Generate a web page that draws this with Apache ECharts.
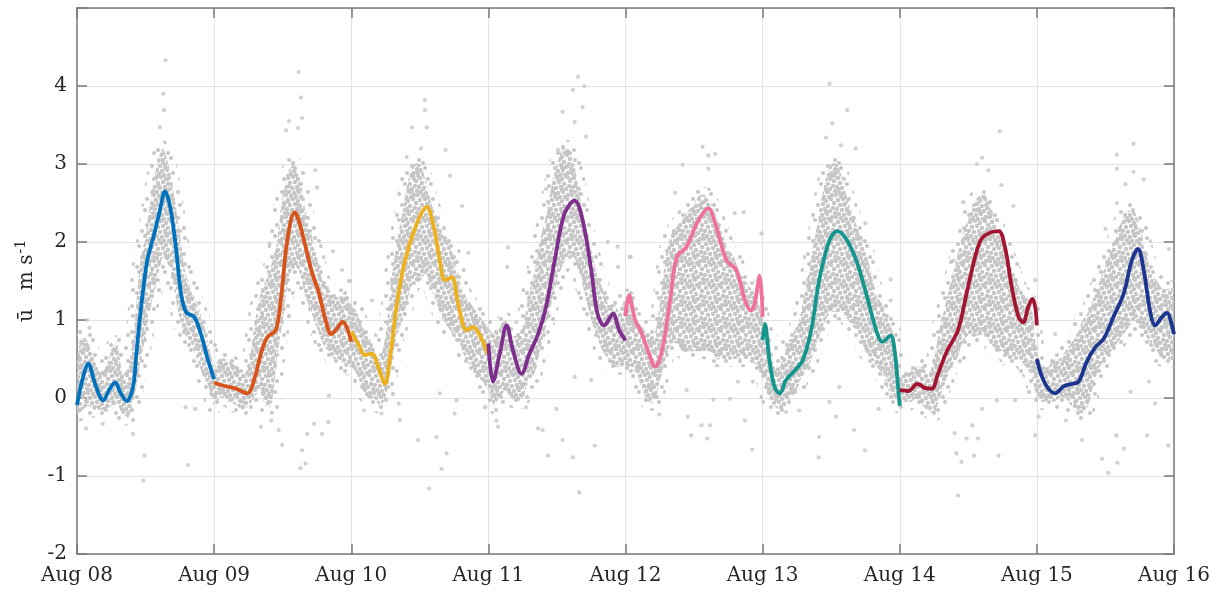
<!DOCTYPE html>
<html>
<head>
<meta charset="utf-8">
<script src="https://cdn.jsdelivr.net/npm/echarts@6/dist/echarts.min.js"></script>
<style>
  html, body { margin: 0; padding: 0; background: #ffffff; }
  #chart { width: 1223px; height: 596px; }
</style>
</head>
<body>
<div id="chart"></div>
<script>
// Day labels along the time axis (one tick every 24 h, starting Aug 08 00:00)
const dayLabels = ['Aug 08', 'Aug 09', 'Aug 10', 'Aug 11', 'Aug 12', 'Aug 13', 'Aug 14', 'Aug 15', 'Aug 16'];

// Hourly envelope of the dense cloud of individual samples (index = hour since Aug 08 00:00)
const cloudLow = [
  -0.2,-0.15,-0.1,-0.15,-0.15,-0.15,-0.1,-0.1,-0.2,-0.25,0.0,0.4,0.8,1.2,1.5,1.8,1.7,1.4,1.0,0.8,0.7,0.5,0.3,0.15,
  -0.1,0.0,0.0,-0.05,-0.1,-0.15,-0.1,0.0,0.1,-0.1,-0.1,0.5,1.0,1.5,1.7,1.6,1.3,1.1,0.9,0.7,0.6,0.5,0.5,0.4,
  0.4,0.3,0.1,0.0,0.0,-0.1,0.0,0.4,0.8,1.0,1.3,1.5,1.5,1.6,1.4,1.2,1.0,0.9,0.8,0.7,0.5,0.4,0.3,0.2,
  0.1,-0.1,0.0,0.1,0.0,-0.05,0.0,0.2,0.3,0.6,0.9,1.2,1.5,1.7,1.8,1.8,1.6,1.3,1.0,0.8,0.6,0.5,0.4,0.4,
  0.4,0.4,0.3,0.1,-0.05,-0.05,0.2,0.5,0.7,0.7,0.6,0.6,0.6,0.6,0.6,0.6,0.5,0.5,0.5,0.5,0.5,0.5,0.5,0.4,
  0.3,0.0,-0.1,-0.15,-0.1,0.0,0.1,0.3,0.4,0.6,0.8,1.0,1.1,1.1,1.1,1.0,0.9,0.8,0.6,0.5,0.4,0.3,0.1,0.0,
  -0.1,-0.05,-0.05,0.0,-0.1,-0.15,-0.2,0.0,0.2,0.4,0.5,0.7,0.8,0.8,0.8,0.8,0.7,0.6,0.6,0.5,0.5,0.5,0.4,0.3,
  0.0,-0.05,-0.05,-0.05,0.0,0.0,-0.1,-0.15,-0.2,-0.1,0.2,0.4,0.5,0.6,0.7,0.8,0.9,1.0,0.9,0.8,0.7,0.6,0.5,0.5,0.5
];
const cloudHigh = [
  0.5,0.8,0.7,0.5,0.35,0.4,0.6,0.7,0.3,0.4,0.9,1.7,2.1,2.6,3.0,3.2,3.0,2.6,2.1,1.6,1.4,1.2,1.0,0.7,
  0.4,0.5,0.5,0.45,0.4,0.3,0.4,0.9,1.3,1.5,1.7,2.0,2.6,2.9,3.0,2.8,2.4,2.1,1.8,1.5,1.4,1.3,1.3,1.3,
  1.2,1.1,0.9,0.8,0.6,0.5,0.8,1.5,2.0,2.4,2.8,3.0,3.0,2.8,2.5,2.3,2.1,2.0,1.8,1.5,1.3,1.2,1.1,1.0,
  0.9,0.8,0.9,1.0,0.8,0.8,0.9,1.3,1.6,2.0,2.3,2.7,3.0,3.2,3.2,3.0,2.6,2.2,1.9,1.6,1.4,1.2,1.2,1.1,
  1.3,1.2,1.0,0.9,0.8,0.8,1.2,1.8,2.1,2.2,2.3,2.4,2.5,2.6,2.6,2.5,2.3,2.1,1.9,1.8,1.6,1.5,1.4,1.3,
  1.0,0.8,0.4,0.4,0.6,0.8,0.9,1.2,1.6,2.0,2.4,2.8,3.0,3.0,2.8,2.5,2.3,2.1,1.9,1.6,1.3,1.2,1.0,0.8,
  0.3,0.3,0.35,0.4,0.4,0.3,0.5,0.9,1.2,1.5,1.8,2.1,2.3,2.5,2.6,2.6,2.4,2.2,2.0,1.8,1.6,1.4,1.3,1.2,
  0.6,0.4,0.4,0.5,0.5,0.6,0.7,0.8,1.0,1.1,1.3,1.5,1.7,1.9,2.1,2.3,2.4,2.4,2.2,1.9,1.6,1.5,1.4,1.4,1.4
];

// Isolated samples outside the dense cloud: [hour, u]
const scatterSamples = [
  [15.5,4.33],[15.1,3.9],[15.2,3.69],[14.5,3.47],[11.8,-0.74],[11.6,-1.06],[19.4,-0.86],[19.0,-0.12],[20.7,-0.14],
  [9.8,-0.46],[1.6,-0.39],[4.5,-0.33],[1.8,1.0],[2.2,0.9],
  [38.8,4.18],[39.2,3.85],[37.1,3.55],[36.6,3.43],[39.4,3.59],[38.7,3.46],[41.7,2.92],[42.0,2.7],[33.7,1.98],
  [44.8,1.88],[46.4,1.64],[47.6,1.5],[39.4,-0.67],[39.1,-0.9],[40.0,-0.84],[35.9,-0.6],[32.2,-0.37],[35.3,-0.41],
  [41.5,-0.33],[42.9,-0.46],[44.0,-0.31],[40.3,-0.46],[34.0,-0.29],[44.1,0.03],
  [60.9,3.82],[60.9,3.69],[61.2,3.47],[58.6,3.47],[60.2,3.2],[64.5,3.18],[57.7,3.09],[65.3,2.85],[67.4,2.46],
  [68.5,1.86],[59.7,-0.54],[62.9,-0.5],[63.8,-0.91],[64.7,-0.71],[61.6,-1.16],[56.5,-0.28],[63.5,0.06],[66.1,-0.2],
  [50.2,-0.16],[53.3,-0.2],[56.3,-0.07],[66.4,-0.03],[51.6,1.25],[47.8,1.5],
  [87.7,4.12],[88.8,4.0],[88.5,3.73],[86.8,3.95],[85.0,3.67],[87.1,3.54],[89.1,3.35],[82.1,2.68],[84.2,3.18],
  [75.4,1.93],[75.3,1.68],[92.9,2.0],[94.6,1.94],[96.7,1.81],[94.7,1.68],[87.9,-1.21],[86.8,-0.76],[82.4,-0.74],
  [85.0,-0.54],[90.6,-0.61],[81.5,-0.41],[80.7,-0.39],[73.4,-0.29],[73.7,-0.37],[71.4,-0.12],[83.9,-0.14],
  [78.6,-0.12],[87.1,0.27],[90.0,0.23],
  [109.5,3.22],[110.5,3.11],[111.7,3.13],[106.0,2.99],[110.5,2.94],[104.7,2.63],[115.1,2.37],[116.7,2.38],
  [119.8,2.11],[96.9,1.81],[109.3,-0.35],[110.8,-0.35],[107.5,-0.48],[110.3,-0.52],[106.9,-0.24],[116.9,-0.29],
  [118.2,-0.66],[101.9,-0.21],[111.4,-0.02],[114.3,-0.01],[115.7,0.21],[106.7,0.1],[118.3,0.21],
  [131.7,4.03],[134.8,3.69],[132.2,3.52],[131.1,3.34],[136.3,3.2],[133.7,3.24],[138.0,2.24],[142.4,1.52],
  [142.4,1.25],[129.9,-0.5],[129.8,-0.76],[137.9,-0.67],[136.0,-0.41],[132.8,-0.24],[131.7,-0.05],[133.4,0.14],
  [140.3,-0.14],[124.1,-0.18],[126.4,-0.16],
  [161.5,3.42],[158.4,3.08],[157.5,3.0],[159.5,2.92],[161.8,2.73],[155.1,2.51],[163.9,2.46],[153.4,1.76],
  [167.7,1.51],[154.2,-1.25],[154.8,-0.82],[153.9,-0.71],[157.0,-0.74],[155.7,-0.52],[156.7,-0.35],[153.6,-0.45],
  [161.3,-0.74],[157.7,-0.52],[158.4,-0.14],[167.7,-0.48],[161.0,-0.03],[164.2,-0.03],
  [184.9,3.26],[182.0,3.12],[184.9,2.9],[182.0,2.94],[186.7,2.8],[183.5,2.74],[182.0,2.5],[180.0,2.17],
  [191.1,1.91],[171.2,0.82],[180.5,-0.96],[182.1,-0.83],[179.4,-0.78],[183.2,-0.65],[181.9,-0.48],[187.3,-0.48],
  [191.0,-0.61],[173.1,-0.29],[175.9,-0.54],[168.3,-0.24],[184.4,0.08],[187.6,0.21],[188.7,-0.07]
];

// Smoothed daily mean curves: [hour, u]
const aug08 = [[0,-0.09],[1,0.25],[2,0.44],[3,0.22],[4,0.02],[4.6,-0.03],[5.6,0.1],[6.7,0.2],[7.6,0.07],[8.7,-0.04],
  [9.8,0.14],[10.35,0.53],[10.9,0.95],[11.6,1.4],[12.3,1.76],[13.5,2.1],[14.5,2.4],[15.4,2.65],[16.3,2.45],
  [17.3,1.94],[18.2,1.34],[19.1,1.1],[20.5,1.04],[21.7,0.82],[22.8,0.52],[24,0.24]];
const aug09 = [[24,0.2],[25.5,0.16],[27.8,0.12],[29.8,0.06],[31,0.23],[32.2,0.57],[33.3,0.78],[34.8,0.87],
  [35.8,1.34],[36.8,2.02],[38.1,2.38],[38.8,2.28],[40,1.94],[41.2,1.59],[42.3,1.36],[43.5,1.0],[44.5,0.82],
  [45.5,0.89],[46.5,0.98],[47.3,0.89],[48,0.72]];
const aug10 = [[48,0.85],[49.3,0.68],[50.4,0.55],[51.6,0.57],[52.8,0.38],[53.9,0.18],[54.8,0.53],[56,1.21],
  [57.4,1.76],[59.5,2.24],[61.2,2.45],[62.4,2.21],[63.5,1.76],[64.4,1.51],[65.6,1.55],[66.7,1.21],[68.2,0.87],
  [69.3,0.91],[70.8,0.76],[71.8,0.57]];
const aug11 = [[72,0.7],[72.8,0.21],[74,0.57],[75.2,0.93],[76.3,0.61],[77.8,0.31],[79.2,0.57],[80.7,0.82],
  [82.1,1.17],[83.6,1.76],[85.3,2.36],[87.1,2.53],[88.5,2.28],[90,1.64],[91.1,1.08],[92.3,0.93],[93.8,1.08],
  [94.9,0.87],[96,0.74]];
const aug12 = [[96,1.05],[96.6,1.32],[97.7,1.0],[98.9,0.82],[100.1,0.57],[101.2,0.4],[102.4,0.61],[103.8,1.25],
  [105,1.81],[106.7,1.94],[108.5,2.24],[110.5,2.43],[111.9,2.19],[113.7,1.76],[115.4,1.64],[116.9,1.25],
  [118,1.12],[118.6,1.21],[119.5,1.57],[120,1.04]];
const aug13 = [[120,0.74],[120.4,0.95],[121.2,0.48],[122.1,0.14],[123,0.06],[124.1,0.23],[125.6,0.35],[127,0.48],
  [128.5,0.87],[129.9,1.51],[131.7,2.02],[133.1,2.14],[134.8,2.02],[136.6,1.72],[138.3,1.29],[140.1,0.82],
  [141,0.72],[142.4,0.8],[143.1,0.61],[143.6,0.23],[144,-0.1]];
const aug14 = [[144,0.1],[145.5,0.09],[147.1,0.18],[148.4,0.13],[149.6,0.12],[150.7,0.31],[152.2,0.59],[154.2,0.87],
  [155.7,1.34],[157.2,1.81],[158.3,2.04],[159.8,2.12],[161.3,2.14],[162.4,1.94],[163.6,1.42],[164.8,1.04],
  [165.6,0.97],[166.5,1.17],[167.2,1.27],[167.7,1.17],[168,0.93]];
const aug15 = [[168,0.5],[168.9,0.27],[170,0.12],[171.2,0.06],[172.7,0.15],[174.1,0.18],[175.3,0.21],[176.7,0.46],
  [178.2,0.65],[179.7,0.76],[181.4,1.04],[183.2,1.34],[184.6,1.76],[185.7,1.91],[186.7,1.64],[187.9,1.08],
  [188.7,0.93],[189.9,1.04],[190.8,1.09],[191.5,0.97],[192,0.82]];

const dailyCurves = [aug08, aug09, aug10, aug11, aug12, aug13, aug14, aug15];
const curveColors = ['#0072BD', '#D95319', '#EDB120', '#7E2F8E', '#F0719B', '#14968F', '#A2142F', '#1C3591'];

const FONT = 'DejaVu Serif';
const AXIS_COLOR = '#7a7a7a';
const GRID_COLOR = '#e3e3e3';
const DOT_COLOR = '#c6c6c6';

// Small repeating tiles of dots used to texture the sample cloud
function dotTile(size, dots, r, color) {
  const c = document.createElement('canvas');
  c.width = size; c.height = size;
  const g = c.getContext('2d');
  g.fillStyle = color;
  dots.forEach(([x, y]) => {
    for (let dx = -size; dx <= size; dx += size) {
      for (let dy = -size; dy <= size; dy += size) {
        g.beginPath();
        g.arc(x + dx, y + dy, r, 0, Math.PI * 2);
        g.fill();
      }
    }
  });
  return c;
}
const denseTile = dotTile(22, [
  [2,2],[7,1],[12,3],[17,1],[20,5],[4,7],[9,6],[14,8],[19,10],[1,11],[6,12],[11,11],
  [16,13],[21,15],[3,16],[8,17],[13,16],[18,19],[5,20],[10,21],[15,21],[0,19],[12,14]
], 2.2, DOT_COLOR);
const sparseTile = dotTile(26, [
  [3,4],[15,2],[22,10],[9,12],[2,20],[17,17],[12,23],[24,23],[7,7]
], 2.0, DOT_COLOR);

const chart = echarts.init(document.getElementById('chart'), null, { renderer: 'canvas' });

const curveSeries = dailyCurves.map((d, i) => ({
  type: 'line',
  data: d,
  xAxisIndex: 0,
  yAxisIndex: 0,
  smooth: 0.35,
  showSymbol: false,
  symbol: 'none',
  lineStyle: { color: curveColors[i], width: 3.8 },
  z: 5,
  silent: true
}));

const option = {
  animation: false,
  backgroundColor: '#ffffff',
  grid: { left: 77, right: 49, top: 8, bottom: 42, containLabel: false },
  xAxis: [
    {
      type: 'value', min: 0, max: 192, interval: 24, position: 'bottom',
      axisLine: { show: true, onZero: false, lineStyle: { color: AXIS_COLOR, width: 1.5 } },
      axisTick: { show: true, inside: true, length: 10, lineStyle: { color: AXIS_COLOR, width: 1.5 } },
      splitLine: { show: true, lineStyle: { color: GRID_COLOR, width: 1 } },
      axisLabel: {
        margin: 12, color: '#262626', fontFamily: FONT, fontSize: 20,
        formatter: v => dayLabels[Math.round(v / 24)]
      }
    },
    {
      type: 'value', min: 0, max: 192, interval: 24, position: 'top',
      axisLine: { show: true, onZero: false, lineStyle: { color: AXIS_COLOR, width: 1.5 } },
      axisTick: { show: true, inside: true, length: 10, lineStyle: { color: AXIS_COLOR, width: 1.5 } },
      splitLine: { show: false }, axisLabel: { show: false }
    }
  ],
  yAxis: [
    {
      type: 'value', min: -2, max: 5, interval: 1, position: 'left',
      axisLine: { show: true, onZero: false, lineStyle: { color: AXIS_COLOR, width: 1.5 } },
      axisTick: { show: true, inside: true, length: 10, lineStyle: { color: AXIS_COLOR, width: 1.5 } },
      splitLine: { show: true, lineStyle: { color: GRID_COLOR, width: 1 } },
      axisLabel: {
        margin: 10, color: '#262626', fontFamily: FONT, fontSize: 20,
        formatter: v => (v >= 5 ? '' : String(v))
      },
      name: '{u|ū   m s}{sup|-1}',
      nameLocation: 'middle',
      nameRotate: 90,
      nameGap: 30,
      nameTextStyle: {
        rich: {
          u: { fontFamily: FONT, fontSize: 20, color: '#262626' },
          sup: { fontFamily: FONT, fontSize: 14, color: '#262626', verticalAlign: 'top', padding: [0, 0, 10, 1] }
        }
      }
    },
    {
      type: 'value', min: -2, max: 5, interval: 1, position: 'right',
      axisLine: { show: true, onZero: false, lineStyle: { color: AXIS_COLOR, width: 1.5 } },
      axisTick: { show: true, inside: true, length: 10, lineStyle: { color: AXIS_COLOR, width: 1.5 } },
      splitLine: { show: false }, axisLabel: { show: false }
    }
  ],
  series: [
    {
      // dense cloud of samples drawn as its hourly envelope, textured with dots
      type: 'custom',
      xAxisIndex: 0, yAxisIndex: 0,
      silent: true,
      clip: true,
      z: 2,
      data: [[0, 0]],
      renderItem: function (params, api) {
        if (params.dataIndex !== 0) return null;
        const pts = [];
        for (let i = 0; i < cloudHigh.length; i++) pts.push(api.coord([i, cloudHigh[i]]));
        for (let i = cloudLow.length - 1; i >= 0; i--) pts.push(api.coord([i, cloudLow[i]]));
        return {
          type: 'polygon',
          shape: { points: pts, smooth: 0.25 },
          style: {
            fill: { image: denseTile, repeat: 'repeat' },
            stroke: { image: sparseTile, repeat: 'repeat' },
            lineWidth: 16,
            lineJoin: 'round'
          }
        };
      }
    },
    {
      type: 'scatter',
      xAxisIndex: 0, yAxisIndex: 0,
      data: scatterSamples,
      symbol: 'circle',
      symbolSize: 4.2,
      itemStyle: { color: DOT_COLOR },
      silent: true,
      z: 3
    }
  ].concat(curveSeries)
};

chart.setOption(option);
</script>
</body>
</html>
